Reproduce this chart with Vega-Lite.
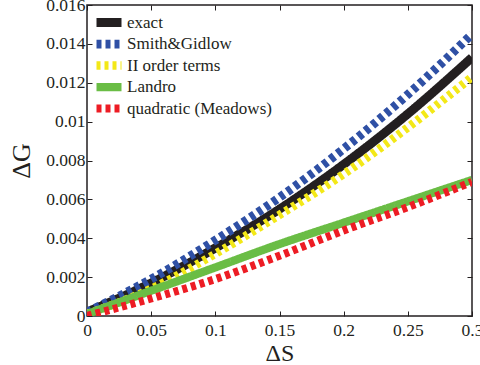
{
  "$schema": "https://vega.github.io/schema/vega-lite/v6.json",
  "autosize": "none",
  "width": 385,
  "height": 311,
  "padding": {"left": 87, "top": 5, "right": 8, "bottom": 49},
  "background": "white",
  "config": {
    "font": "Liberation Serif, Times New Roman, serif",
    "view": {"stroke": "#231f20", "strokeWidth": 1.5},
    "axis": {
      "domain": false,
      "grid": false,
      "tickColor": "#231f20",
      "tickSize": -5,
      "tickWidth": 1,
      "labelFont": "Liberation Serif, Times New Roman, serif",
      "labelFontSize": 17.5,
      "labelColor": "#231f20",
      "titleFont": "Liberation Serif, Times New Roman, serif",
      "titleFontSize": 26,
      "titleFontWeight": "normal",
      "titleColor": "#231f20"
    }
  },
  "data": {
    "values": [
      {"s": 0.0, "g": 0.0002, "method": "exact"},
      {"s": 0.05, "g": 0.0017, "method": "exact"},
      {"s": 0.1, "g": 0.0035, "method": "exact"},
      {"s": 0.15, "g": 0.0055, "method": "exact"},
      {"s": 0.2, "g": 0.0078, "method": "exact"},
      {"s": 0.25, "g": 0.0104, "method": "exact"},
      {"s": 0.3, "g": 0.0133, "method": "exact"},
      {"s": 0.0, "g": 0.0002, "method": "Smith&Gidlow"},
      {"s": 0.05, "g": 0.0019, "method": "Smith&Gidlow"},
      {"s": 0.1, "g": 0.0039, "method": "Smith&Gidlow"},
      {"s": 0.15, "g": 0.0061, "method": "Smith&Gidlow"},
      {"s": 0.2, "g": 0.0086, "method": "Smith&Gidlow"},
      {"s": 0.25, "g": 0.0114, "method": "Smith&Gidlow"},
      {"s": 0.3, "g": 0.0145, "method": "Smith&Gidlow"},
      {"s": 0.0, "g": 0.0001, "method": "II order terms"},
      {"s": 0.05, "g": 0.0014, "method": "II order terms"},
      {"s": 0.1, "g": 0.0032, "method": "II order terms"},
      {"s": 0.15, "g": 0.0052, "method": "II order terms"},
      {"s": 0.2, "g": 0.0073, "method": "II order terms"},
      {"s": 0.25, "g": 0.0097, "method": "II order terms"},
      {"s": 0.3, "g": 0.0123, "method": "II order terms"},
      {"s": 0.0, "g": 0.0001, "method": "Landro"},
      {"s": 0.05, "g": 0.0013, "method": "Landro"},
      {"s": 0.1, "g": 0.0025, "method": "Landro"},
      {"s": 0.15, "g": 0.0037, "method": "Landro"},
      {"s": 0.2, "g": 0.0048, "method": "Landro"},
      {"s": 0.25, "g": 0.0059, "method": "Landro"},
      {"s": 0.3, "g": 0.0070, "method": "Landro"},
      {"s": 0.0, "g": 0.0, "method": "quadratic (Meadows)"},
      {"s": 0.05, "g": 0.0009, "method": "quadratic (Meadows)"},
      {"s": 0.1, "g": 0.0019, "method": "quadratic (Meadows)"},
      {"s": 0.15, "g": 0.0031, "method": "quadratic (Meadows)"},
      {"s": 0.2, "g": 0.0044, "method": "quadratic (Meadows)"},
      {"s": 0.25, "g": 0.0056, "method": "quadratic (Meadows)"},
      {"s": 0.3, "g": 0.0069, "method": "quadratic (Meadows)"}
    ]
  },
  "layer": [
    {
      "mark": {"type": "line", "interpolate": "monotone", "clip": true, "strokeCap": "butt"},
      "encoding": {
        "x": {
          "field": "s", "type": "quantitative",
          "scale": {"domain": [0, 0.3], "nice": false},
          "axis": {"orient": "bottom", "title": "ΔS", "values": [0, 0.05, 0.1, 0.15, 0.2, 0.25, 0.3], "labelExpr": "'' + datum.value", "labelPadding": 10, "titleFontSize": 24, "titleBaseline": "alphabetic", "titleY": 44, "labelFlush": false}
        },
        "y": {
          "field": "g", "type": "quantitative",
          "scale": {"domain": [0, 0.016], "nice": false},
          "axis": {"orient": "left", "title": "ΔG", "values": [0, 0.002, 0.004, 0.006, 0.008, 0.01, 0.012, 0.014, 0.016], "labelExpr": "'' + datum.value", "labelPadding": 7, "titlePadding": 11, "labelFlush": false}
        },
        "color": {
          "field": "method", "type": "nominal",
          "scale": {
            "domain": ["exact", "Smith&Gidlow", "II order terms", "Landro", "quadratic (Meadows)"],
            "range": ["#231f20", "#2f50a5", "#f3e817", "#6abd45", "#ed1c24"]
          },
          "legend": {
            "title": null,
            "orient": "none",
            "legendX": 5,
            "legendY": 9,
            "padding": 0,
            "symbolType": "stroke",
            "symbolSize": 625,
            "clipHeight": 17,
            "labelFont": "Liberation Serif, Times New Roman, serif",
            "labelFontSize": 17,
            "labelColor": "#231f20",
            "labelOffset": 1,
            "rowPadding": 3.5
          }
        },
        "strokeDash": {
          "field": "method", "type": "nominal",
          "scale": {
            "domain": ["exact", "Smith&Gidlow", "II order terms", "Landro", "quadratic (Meadows)"],
            "range": [[1, 0], [5, 4], [4, 4], [1, 0], [5, 4]]
          }
        },
        "strokeWidth": {
          "field": "method", "type": "nominal",
          "scale": {
            "domain": ["exact", "Smith&Gidlow", "II order terms", "Landro", "quadratic (Meadows)"],
            "range": [9, 8, 6, 8, 8]
          }
        }
      }
    },
    {
      "mark": {"type": "rule", "opacity": 0},
      "encoding": {
        "x": {"field": "s", "type": "quantitative", "axis": {"orient": "top", "labels": false, "title": null, "values": [0, 0.05, 0.1, 0.15, 0.2, 0.25, 0.3]}},
        "y": {"field": "g", "type": "quantitative", "axis": {"orient": "right", "labels": false, "title": null, "values": [0, 0.002, 0.004, 0.006, 0.008, 0.01, 0.012, 0.014, 0.016]}}
      }
    }
  ],
  "resolve": {"axis": {"x": "independent", "y": "independent"}}
}
